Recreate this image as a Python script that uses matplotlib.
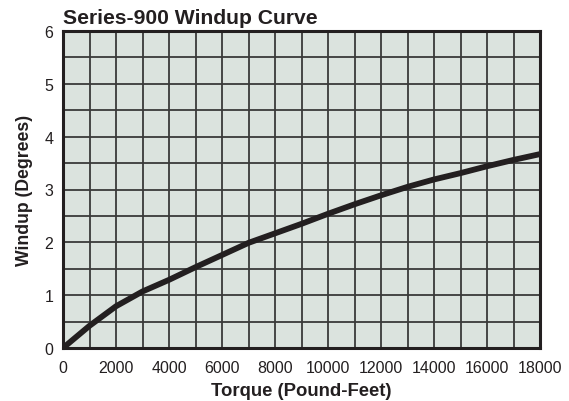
import numpy as np
import matplotlib
matplotlib.use('Agg')
import matplotlib.pyplot as plt

# Windup curve
torque = [0, 1000, 2000, 3000, 4000, 5000, 6000, 7000, 8000, 9000,
          10000, 11000, 12000, 13000, 14000, 15000, 16000, 17000, 18000]
windup = [0.0, 0.42, 0.79, 1.07, 1.29, 1.53, 1.76, 1.99, 2.17, 2.35,
          2.54, 2.72, 2.89, 3.05, 3.19, 3.31, 3.44, 3.56, 3.67]

x_ticks = list(range(0, 18001, 2000))
y_ticks = [0, 1, 2, 3, 4, 5, 6]

plt.rcParams['font.family'] = ['Liberation Sans', 'DejaVu Sans']
txt = '#231f20'

fig = plt.figure(figsize=(5.69, 4.02), dpi=100)
ax = fig.add_axes([63 / 569, 53 / 402, 477 / 569, 317 / 402])
ax.set_facecolor('#dbe3de')

ax.plot(torque, windup, color='#231f20', lw=4.2, solid_capstyle='butt', zorder=3)

ax.set_xlim(0, 18000)
ax.set_ylim(0, 6)
ax.set_xticks(x_ticks)
ax.set_yticks(y_ticks)
ax.set_xticks(range(0, 18001, 1000), minor=True)
ax.set_yticks(np.arange(0, 6.01, 0.5), minor=True)
ax.grid(which='both', color='#3a3a3a', lw=1.3, zorder=1)
ax.tick_params(which='both', length=0, labelsize=11.5, colors=txt)
ax.tick_params(axis='x', pad=9)
ax.tick_params(axis='y', pad=7)

for s in ax.spines.values():
    s.set_linewidth(2.2)
    s.set_color('#231f20')
    s.set_zorder(4)

ax.set_xlabel('Torque (Pound-Feet)', fontsize=13.3, fontweight='bold', color=txt, labelpad=5)
ax.set_ylabel('Windup (Degrees)', fontsize=12.7, fontweight='bold', color=txt, labelpad=8)
ax.set_title('Series-900 Windup Curve', loc='left', fontsize=15.2, fontweight='bold',
             color=txt, pad=6)

fig.savefig('out.png', dpi=100)
